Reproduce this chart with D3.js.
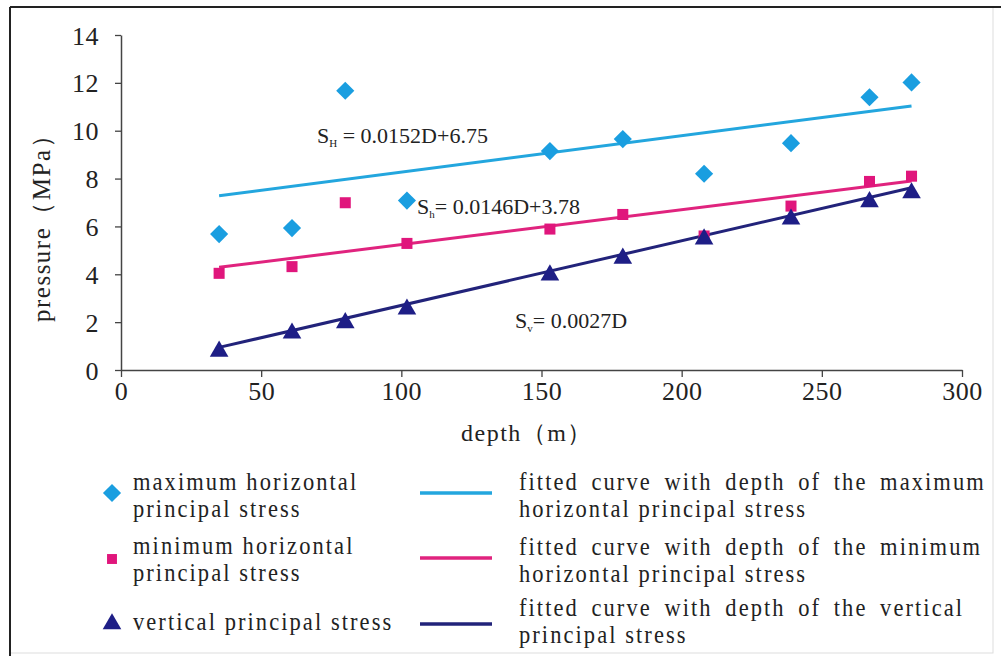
<!DOCTYPE html>
<html>
<head>
<meta charset="utf-8">
<script src="https://cdn.jsdelivr.net/npm/d3@7"></script>
<style>
  body { margin: 0; background: #fff; }
  svg text { font-family: "Liberation Serif", "DejaVu Serif", serif; fill: #222; }
</style>
</head>
<body>
<div id="chart"></div>
<script>
// depth of each measuring point (m)
var depths = [35, 61, 80, 102, 153, 179, 208, 239, 267, 282];
// measured stresses (MPa)
var sHmax = [5.68, 5.93, 11.67, 7.08, 9.15, 9.65, 8.2, 9.48, 11.4, 12.02];
var sHmin = [4.04, 4.32, 6.99, 5.29, 5.89, 6.5, 5.6, 6.85, 7.88, 8.1];
var sV = [0.78, 1.54, 1.97, 2.54, 3.97, 4.67, 5.47, 6.3, 7.03, 7.4];
// fitted lines: slope, intercept
var fitHmax = [0.0152, 6.75];
var fitHmin = [0.0146, 3.78];
var fitV = [0.027, 0];
var xTicks = [0, 50, 100, 150, 200, 250, 300];
var yTicks = [0, 2, 4, 6, 8, 10, 12, 14];

var width = 1001, height = 656;
var svg = d3.select("#chart").append("svg")
    .attr("width", width)
    .attr("height", height);

var serif = "'Liberation Serif', 'DejaVu Serif', serif";

// frame
svg.append("rect").attr("x", 10).attr("y", 7).attr("width", 983).attr("height", 646)
    .attr("fill", "none").attr("stroke", "#ddd").attr("stroke-width", 1);
svg.append("line").attr("x1", 10).attr("x2", 1001).attr("y1", 7).attr("y2", 7)
    .attr("stroke", "#222").attr("stroke-width", 2);
svg.append("line").attr("x1", 10).attr("x2", 10).attr("y1", 7).attr("y2", 656)
    .attr("stroke", "#222").attr("stroke-width", 2);

var x = d3.scaleLinear().domain([0, 300]).range([121, 962]);
var y = d3.scaleLinear().domain([0, 14]).range([370, 35]);

var xAxis = svg.append("g")
    .attr("transform", "translate(0," + y(0) + ")")
    .call(d3.axisBottom(x).tickValues(xTicks).tickSize(7).tickPadding(4).tickSizeOuter(0));
var yAxis = svg.append("g")
    .attr("transform", "translate(" + x(0) + ",0)")
    .call(d3.axisLeft(y).tickValues(yTicks).tickSize(6).tickPadding(16).tickSizeOuter(0));

[xAxis, yAxis].forEach(function(g) {
  g.attr("font-family", serif);
  g.select(".domain").attr("stroke", "#444").attr("stroke-width", 1.5);
  g.selectAll(".tick line").attr("stroke", "#444").attr("stroke-width", 1.3);
  g.selectAll(".tick text")
      .attr("fill", "#222")
      .style("font-family", serif)
      .style("font-size", "26px")
      .style("letter-spacing", "0.5px");
});
xAxis.selectAll(".tick text").attr("dy", "0.72em");
yAxis.selectAll(".tick text").attr("dy", "0.35em");

// axis titles
svg.append("text")
    .attr("transform", "translate(50,222) rotate(-90)")
    .attr("text-anchor", "middle")
    .style("font-size", "25px")
    .style("letter-spacing", "1.5px")
    .text("pressure（MPa）");
svg.append("text")
    .attr("x", 527).attr("y", 441)
    .attr("text-anchor", "middle")
    .style("font-size", "24px")
    .style("letter-spacing", "1.5px")
    .text("depth（m）");

var colHmax = "#1a9ee0", colHmin = "#e0167c", colV = "#1e1e86";
var lineHmax = "#23a6de", lineHmin = "#e0237e", lineV = "#22237a";

// fitted lines
var fits = [
  {c: fitHmax, col: lineHmax},
  {c: fitHmin, col: lineHmin},
  {c: fitV, col: lineV}
];
var dExt = d3.extent(depths);
var lineGen = d3.line().x(function(d) { return x(d[0]); }).y(function(d) { return y(d[1]); });
svg.append("g").selectAll("path")
    .data(fits)
    .enter().append("path")
    .attr("d", function(f) {
      return lineGen(dExt.map(function(d) { return [d, f.c[0] * d + f.c[1]]; }));
    })
    .attr("fill", "none")
    .attr("stroke", function(f) { return f.col; })
    .attr("stroke-width", 3);

function pts(vals) { return depths.map(function(d, i) { return [d, vals[i]]; }); }

var diamond = d3.symbol().type(d3.symbolDiamond2).size(210)();
var square = d3.symbol().type(d3.symbolSquare2).size(155)();
var triangle = d3.symbol().type(d3.symbolTriangle).size(150)();

svg.append("g").selectAll("path").data(pts(sHmax)).enter().append("path")
    .attr("d", diamond)
    .attr("transform", function(d) { return "translate(" + x(d[0]) + "," + y(d[1]) + ")"; })
    .attr("fill", colHmax);
svg.append("g").selectAll("path").data(pts(sHmin)).enter().append("path")
    .attr("d", square)
    .attr("transform", function(d) { return "translate(" + x(d[0]) + "," + y(d[1]) + ")"; })
    .attr("fill", colHmin);
svg.append("g").selectAll("path").data(pts(sV)).enter().append("path")
    .attr("d", triangle)
    .attr("transform", function(d) { return "translate(" + x(d[0]) + "," + y(d[1]) + ")"; })
    .attr("fill", colV);

// equation labels
function eq(xp, yp, sub, rest) {
  var t = svg.append("text").attr("x", xp).attr("y", yp).style("font-size", "22px");
  t.append("tspan").text("S");
  t.append("tspan").attr("dy", 4).style("font-size", "11px").text(sub);
  t.append("tspan").attr("dy", -4).text(rest);
}
eq(317, 143, "H", " = 0.0152D+6.75");
eq(417, 214, "h", "= 0.0146D+3.78");
eq(515, 328, "v", "= 0.0027D");

// legend (text slightly condensed like the original)
function legLines(xp, y0, lines, ws) {
  var t = svg.append("g").attr("transform", "translate(" + xp + "," + y0 + ") scale(0.9,1)")
    .append("text")
      .style("font-size", "25px")
      .style("letter-spacing", "2.3px");
  lines.forEach(function(s, i) {
    t.append("tspan").attr("x", 0).attr("dy", i === 0 ? 0 : 27.5)
        .style("word-spacing", i === 0 ? ws + "px" : "0px")
        .text(s);
  });
}
var legMarkers = [
  {d: diamond, col: colHmax, y: 493, lines: ["maximum horizontal", "principal stress"], ty: 490},
  {d: square, col: colHmin, y: 559, lines: ["minimum horizontal", "principal stress"], ty: 554},
  {d: triangle, col: colV, y: 624, lines: ["vertical principal stress"], ty: 630}
];
legMarkers.forEach(function(m) {
  svg.append("path").attr("d", m.d)
      .attr("transform", "translate(112," + m.y + ")" + (m.d === square ? " scale(0.9)" : ""))
      .attr("fill", m.col);
  legLines(133, m.ty, m.lines, 0);
});
var legFits = [
  {col: lineHmax, y: 493, ty: 490, lines: ["fitted curve with depth of the maximum", "horizontal principal stress"]},
  {col: lineHmin, y: 558, ty: 555, lines: ["fitted curve with depth of the minimum", "horizontal principal stress"]},
  {col: lineV, y: 624, ty: 616, lines: ["fitted curve with depth of the vertical", "principal stress"]}
];
legFits.forEach(function(f) {
  svg.append("line").attr("x1", 420).attr("x2", 492).attr("y1", f.y).attr("y2", f.y)
      .attr("stroke", f.col).attr("stroke-width", 3.5);
  legLines(519, f.ty, f.lines, 5.5);
});
</script>
</body>
</html>
